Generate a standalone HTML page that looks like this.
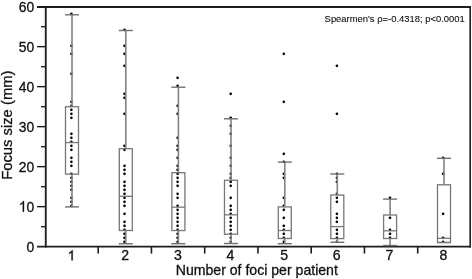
<!DOCTYPE html>
<html><head><meta charset="utf-8"><style>
html,body{margin:0;padding:0;background:#fff;width:472px;height:279px;overflow:hidden}
svg{display:block}
.t{font-family:"Liberation Sans",sans-serif;font-size:14.1px;fill:#111;stroke:#111;stroke-width:0.3px}
.yl{font-family:"Liberation Sans",sans-serif;font-size:14.8px;fill:#111;stroke:#111;stroke-width:0.3px}
.s{font-family:"Liberation Sans",sans-serif;font-size:9.9px;fill:#111;stroke:#111;stroke-width:0.12px}
circle{fill:#000}
.yt{font-family:"Liberation Sans",sans-serif;font-size:13.9px;fill:#111;stroke:#111;stroke-width:0.3px}
.g{fill:#111;stroke:#111;stroke-width:44px}
</style></head><body>
<svg style="filter:grayscale(1)" width="472" height="279" viewBox="0 0 472 279">
<line x1="37" y1="6.95" x2="471" y2="6.95" stroke="#1c1c1c" stroke-width="1.9"/>
<line x1="45.75" y1="6" x2="45.75" y2="247.6" stroke="#1c1c1c" stroke-width="1.85"/>
<line x1="470.2" y1="6" x2="470.2" y2="247.6" stroke="#1c1c1c" stroke-width="1.6"/>
<line x1="37" y1="246.65" x2="471" y2="246.65" stroke="#1c1c1c" stroke-width="1.9"/>
<text transform="translate(34.30,251.68) scale(1,1.07)" text-anchor="end" class="yt">0</text>
<line x1="41" y1="226.66" x2="46" y2="226.66" stroke="#1c1c1c" stroke-width="1.4"/>
<line x1="37" y1="206.66" x2="46" y2="206.66" stroke="#1c1c1c" stroke-width="1.4"/>
<path class="g" transform="translate(18.84,211.68) scale(0.006787,-0.007262)" d="M763 0L583 0L583 1147Q518 1085 412.5 1023Q307 961 223 930L223 1104Q374 1175 487 1276Q600 1377 647 1472L763 1472Z"/>
<text transform="translate(34.30,211.68) scale(1,1.07)" text-anchor="end" class="yt">0</text>
<line x1="41" y1="186.66" x2="46" y2="186.66" stroke="#1c1c1c" stroke-width="1.4"/>
<line x1="37" y1="166.66" x2="46" y2="166.66" stroke="#1c1c1c" stroke-width="1.4"/>
<text transform="translate(34.30,171.68) scale(1,1.07)" text-anchor="end" class="yt">20</text>
<line x1="41" y1="146.66" x2="46" y2="146.66" stroke="#1c1c1c" stroke-width="1.4"/>
<line x1="37" y1="126.66" x2="46" y2="126.66" stroke="#1c1c1c" stroke-width="1.4"/>
<text transform="translate(34.30,131.68) scale(1,1.07)" text-anchor="end" class="yt">30</text>
<line x1="41" y1="106.66" x2="46" y2="106.66" stroke="#1c1c1c" stroke-width="1.4"/>
<line x1="37" y1="86.66" x2="46" y2="86.66" stroke="#1c1c1c" stroke-width="1.4"/>
<text transform="translate(34.30,91.68) scale(1,1.07)" text-anchor="end" class="yt">40</text>
<line x1="41" y1="66.66" x2="46" y2="66.66" stroke="#1c1c1c" stroke-width="1.4"/>
<line x1="37" y1="46.66" x2="46" y2="46.66" stroke="#1c1c1c" stroke-width="1.4"/>
<text transform="translate(34.30,51.68) scale(1,1.07)" text-anchor="end" class="yt">50</text>
<line x1="41" y1="26.66" x2="46" y2="26.66" stroke="#1c1c1c" stroke-width="1.4"/>
<text transform="translate(34.30,11.68) scale(1,1.07)" text-anchor="end" class="yt">60</text>
<line x1="98.20" y1="246" x2="98.20" y2="253.6" stroke="#1c1c1c" stroke-width="1.6"/>
<line x1="151.45" y1="246" x2="151.45" y2="253.6" stroke="#1c1c1c" stroke-width="1.6"/>
<line x1="204.70" y1="246" x2="204.70" y2="253.6" stroke="#1c1c1c" stroke-width="1.6"/>
<line x1="257.95" y1="246" x2="257.95" y2="253.6" stroke="#1c1c1c" stroke-width="1.6"/>
<line x1="311.20" y1="246" x2="311.20" y2="253.6" stroke="#1c1c1c" stroke-width="1.6"/>
<line x1="364.45" y1="246" x2="364.45" y2="253.6" stroke="#1c1c1c" stroke-width="1.6"/>
<line x1="417.70" y1="246" x2="417.70" y2="253.6" stroke="#1c1c1c" stroke-width="1.6"/>
<path class="g" transform="translate(67.48,260.30) scale(0.006885,-0.006885)" d="M763 0L583 0L583 1147Q518 1085 412.5 1023Q307 961 223 930L223 1104Q374 1175 487 1276Q600 1377 647 1472L763 1472Z"/>
<text x="125.20" y="260.3" text-anchor="middle" class="t">2</text>
<text x="177.80" y="260.3" text-anchor="middle" class="t">3</text>
<text x="230.40" y="260.3" text-anchor="middle" class="t">4</text>
<text x="284.20" y="260.3" text-anchor="middle" class="t">5</text>
<text x="336.70" y="260.3" text-anchor="middle" class="t">6</text>
<text x="389.50" y="260.3" text-anchor="middle" class="t">7</text>
<text x="443.40" y="260.3" text-anchor="middle" class="t">8</text>
<circle cx="71.40" cy="13.86" r="1.3"/>
<circle cx="71.40" cy="45.86" r="1.3"/>
<circle cx="71.40" cy="53.86" r="1.3"/>
<circle cx="71.40" cy="73.86" r="1.3"/>
<circle cx="71.40" cy="101.86" r="1.3"/>
<circle cx="71.40" cy="105.86" r="1.3"/>
<circle cx="71.40" cy="109.86" r="1.3"/>
<circle cx="71.40" cy="113.86" r="1.3"/>
<circle cx="71.40" cy="117.86" r="1.3"/>
<circle cx="71.40" cy="133.86" r="1.3"/>
<circle cx="71.40" cy="137.86" r="1.3"/>
<circle cx="71.40" cy="141.86" r="1.3"/>
<circle cx="71.40" cy="145.86" r="1.3"/>
<circle cx="71.40" cy="149.86" r="1.3"/>
<circle cx="71.40" cy="157.86" r="1.3"/>
<circle cx="71.40" cy="161.86" r="1.3"/>
<circle cx="71.40" cy="165.86" r="1.3"/>
<circle cx="71.40" cy="173.86" r="1.3"/>
<circle cx="71.40" cy="177.86" r="1.3"/>
<circle cx="71.40" cy="181.86" r="1.3"/>
<circle cx="71.40" cy="185.86" r="1.3"/>
<circle cx="71.40" cy="189.86" r="1.3"/>
<circle cx="71.40" cy="197.86" r="1.3"/>
<circle cx="71.40" cy="201.86" r="1.3"/>
<circle cx="71.40" cy="205.86" r="1.3"/>
<circle cx="124.50" cy="29.86" r="1.3"/>
<circle cx="124.50" cy="45.86" r="1.3"/>
<circle cx="124.50" cy="53.86" r="1.3"/>
<circle cx="124.50" cy="65.86" r="1.3"/>
<circle cx="124.50" cy="93.86" r="1.3"/>
<circle cx="124.50" cy="97.86" r="1.3"/>
<circle cx="124.50" cy="113.86" r="1.3"/>
<circle cx="124.50" cy="145.86" r="1.3"/>
<circle cx="124.50" cy="149.86" r="1.3"/>
<circle cx="124.50" cy="165.86" r="1.3"/>
<circle cx="124.50" cy="169.86" r="1.3"/>
<circle cx="124.50" cy="173.86" r="1.3"/>
<circle cx="124.50" cy="181.86" r="1.3"/>
<circle cx="124.50" cy="185.86" r="1.3"/>
<circle cx="124.50" cy="189.86" r="1.3"/>
<circle cx="124.50" cy="193.86" r="1.3"/>
<circle cx="124.50" cy="197.86" r="1.3"/>
<circle cx="124.50" cy="201.86" r="1.3"/>
<circle cx="124.50" cy="205.86" r="1.3"/>
<circle cx="124.50" cy="213.86" r="1.3"/>
<circle cx="124.50" cy="221.86" r="1.3"/>
<circle cx="124.50" cy="225.86" r="1.3"/>
<circle cx="124.50" cy="229.86" r="1.3"/>
<circle cx="124.50" cy="233.86" r="1.3"/>
<circle cx="124.50" cy="237.86" r="1.3"/>
<circle cx="124.50" cy="241.86" r="1.3"/>
<circle cx="177.60" cy="77.86" r="1.3"/>
<circle cx="177.60" cy="85.86" r="1.3"/>
<circle cx="177.60" cy="105.86" r="1.3"/>
<circle cx="177.60" cy="113.86" r="1.3"/>
<circle cx="177.60" cy="137.86" r="1.3"/>
<circle cx="177.60" cy="145.86" r="1.3"/>
<circle cx="177.60" cy="149.86" r="1.3"/>
<circle cx="177.60" cy="157.86" r="1.3"/>
<circle cx="177.60" cy="165.86" r="1.3"/>
<circle cx="177.60" cy="169.86" r="1.3"/>
<circle cx="177.60" cy="173.86" r="1.3"/>
<circle cx="177.60" cy="177.86" r="1.3"/>
<circle cx="177.60" cy="181.86" r="1.3"/>
<circle cx="177.60" cy="185.86" r="1.3"/>
<circle cx="177.60" cy="193.86" r="1.3"/>
<circle cx="177.60" cy="197.86" r="1.3"/>
<circle cx="177.60" cy="205.86" r="1.3"/>
<circle cx="177.60" cy="209.86" r="1.3"/>
<circle cx="177.60" cy="213.86" r="1.3"/>
<circle cx="177.60" cy="217.86" r="1.3"/>
<circle cx="177.60" cy="221.86" r="1.3"/>
<circle cx="177.60" cy="225.86" r="1.3"/>
<circle cx="177.60" cy="229.86" r="1.3"/>
<circle cx="177.60" cy="233.86" r="1.3"/>
<circle cx="177.60" cy="237.86" r="1.3"/>
<circle cx="177.60" cy="241.86" r="1.3"/>
<circle cx="230.70" cy="93.86" r="1.3"/>
<circle cx="230.70" cy="117.86" r="1.3"/>
<circle cx="230.70" cy="125.86" r="1.3"/>
<circle cx="230.70" cy="133.86" r="1.3"/>
<circle cx="230.70" cy="145.86" r="1.3"/>
<circle cx="230.70" cy="157.86" r="1.3"/>
<circle cx="230.70" cy="165.86" r="1.3"/>
<circle cx="230.70" cy="173.86" r="1.3"/>
<circle cx="230.70" cy="177.86" r="1.3"/>
<circle cx="230.70" cy="181.86" r="1.3"/>
<circle cx="230.70" cy="185.86" r="1.3"/>
<circle cx="230.70" cy="197.86" r="1.3"/>
<circle cx="230.70" cy="205.86" r="1.3"/>
<circle cx="230.70" cy="209.86" r="1.3"/>
<circle cx="230.70" cy="213.86" r="1.3"/>
<circle cx="230.70" cy="217.86" r="1.3"/>
<circle cx="230.70" cy="221.86" r="1.3"/>
<circle cx="230.70" cy="225.86" r="1.3"/>
<circle cx="230.70" cy="229.86" r="1.3"/>
<circle cx="230.70" cy="233.86" r="1.3"/>
<circle cx="230.70" cy="237.86" r="1.3"/>
<circle cx="230.70" cy="241.86" r="1.3"/>
<circle cx="283.80" cy="53.86" r="1.3"/>
<circle cx="283.80" cy="101.86" r="1.3"/>
<circle cx="283.80" cy="153.86" r="1.3"/>
<circle cx="283.80" cy="161.86" r="1.3"/>
<circle cx="283.80" cy="173.86" r="1.3"/>
<circle cx="283.80" cy="177.86" r="1.3"/>
<circle cx="283.80" cy="197.86" r="1.3"/>
<circle cx="283.80" cy="205.86" r="1.3"/>
<circle cx="283.80" cy="209.86" r="1.3"/>
<circle cx="283.80" cy="217.86" r="1.3"/>
<circle cx="283.80" cy="225.86" r="1.3"/>
<circle cx="283.80" cy="229.86" r="1.3"/>
<circle cx="283.80" cy="233.86" r="1.3"/>
<circle cx="283.80" cy="237.86" r="1.3"/>
<circle cx="283.80" cy="241.86" r="1.3"/>
<circle cx="336.90" cy="65.86" r="1.3"/>
<circle cx="336.90" cy="113.86" r="1.3"/>
<circle cx="336.90" cy="173.86" r="1.3"/>
<circle cx="336.90" cy="177.86" r="1.3"/>
<circle cx="336.90" cy="181.86" r="1.3"/>
<circle cx="336.90" cy="193.86" r="1.3"/>
<circle cx="336.90" cy="197.86" r="1.3"/>
<circle cx="336.90" cy="201.86" r="1.3"/>
<circle cx="336.90" cy="213.86" r="1.3"/>
<circle cx="336.90" cy="217.86" r="1.3"/>
<circle cx="336.90" cy="221.86" r="1.3"/>
<circle cx="336.90" cy="229.86" r="1.3"/>
<circle cx="336.90" cy="233.86" r="1.3"/>
<circle cx="336.90" cy="237.86" r="1.3"/>
<circle cx="336.90" cy="241.86" r="1.3"/>
<circle cx="390.00" cy="197.86" r="1.3"/>
<circle cx="390.00" cy="217.86" r="1.3"/>
<circle cx="390.00" cy="229.86" r="1.3"/>
<circle cx="390.00" cy="233.86" r="1.3"/>
<circle cx="390.00" cy="237.86" r="1.3"/>
<circle cx="443.10" cy="157.86" r="1.3"/>
<circle cx="443.10" cy="173.86" r="1.3"/>
<circle cx="443.10" cy="213.86" r="1.3"/>
<circle cx="443.10" cy="237.86" r="1.3"/>
<circle cx="443.10" cy="241.86" r="1.3"/>
<line x1="72.00" y1="14.8" x2="72.00" y2="106.75" stroke="#828282" stroke-width="1.6"/>
<line x1="72.00" y1="174.15" x2="72.00" y2="206.9" stroke="#828282" stroke-width="1.6"/>
<line x1="65.00" y1="14.8" x2="79.00" y2="14.8" stroke="#707070" stroke-width="1.4"/>
<line x1="65.00" y1="206.9" x2="79.00" y2="206.9" stroke="#707070" stroke-width="1.4"/>
<line x1="125.80" y1="30.5" x2="125.80" y2="148.7" stroke="#828282" stroke-width="1.6"/>
<line x1="125.80" y1="230.5" x2="125.80" y2="243.75" stroke="#828282" stroke-width="1.6"/>
<line x1="118.80" y1="30.5" x2="132.80" y2="30.5" stroke="#707070" stroke-width="1.4"/>
<line x1="118.80" y1="243.75" x2="132.80" y2="243.75" stroke="#707070" stroke-width="1.4"/>
<line x1="178.40" y1="87.2" x2="178.40" y2="172.7" stroke="#828282" stroke-width="1.6"/>
<line x1="178.40" y1="230.55" x2="178.40" y2="243.7" stroke="#828282" stroke-width="1.6"/>
<line x1="171.40" y1="87.2" x2="185.40" y2="87.2" stroke="#707070" stroke-width="1.4"/>
<line x1="171.40" y1="243.7" x2="185.40" y2="243.7" stroke="#707070" stroke-width="1.4"/>
<line x1="231.00" y1="118.8" x2="231.00" y2="180.25" stroke="#828282" stroke-width="1.6"/>
<line x1="231.00" y1="234.2" x2="231.00" y2="243.5" stroke="#828282" stroke-width="1.6"/>
<line x1="224.00" y1="118.8" x2="238.00" y2="118.8" stroke="#707070" stroke-width="1.4"/>
<line x1="224.00" y1="243.5" x2="238.00" y2="243.5" stroke="#707070" stroke-width="1.4"/>
<line x1="284.80" y1="162.1" x2="284.80" y2="206.9" stroke="#828282" stroke-width="1.6"/>
<line x1="284.80" y1="238.5" x2="284.80" y2="243.7" stroke="#828282" stroke-width="1.6"/>
<line x1="277.80" y1="162.1" x2="291.80" y2="162.1" stroke="#707070" stroke-width="1.4"/>
<line x1="277.80" y1="243.7" x2="291.80" y2="243.7" stroke="#707070" stroke-width="1.4"/>
<line x1="337.30" y1="174.0" x2="337.30" y2="195.05" stroke="#828282" stroke-width="1.6"/>
<line x1="337.30" y1="238.6" x2="337.30" y2="242.3" stroke="#828282" stroke-width="1.6"/>
<line x1="330.30" y1="174.0" x2="344.30" y2="174.0" stroke="#707070" stroke-width="1.4"/>
<line x1="330.30" y1="242.3" x2="344.30" y2="242.3" stroke="#707070" stroke-width="1.4"/>
<line x1="390.10" y1="199.1" x2="390.10" y2="215.0" stroke="#828282" stroke-width="1.6"/>
<line x1="390.10" y1="238.5" x2="390.10" y2="245.5" stroke="#828282" stroke-width="1.6"/>
<line x1="383.10" y1="199.1" x2="397.10" y2="199.1" stroke="#707070" stroke-width="1.4"/>
<line x1="383.10" y1="245.5" x2="397.10" y2="245.5" stroke="#707070" stroke-width="1.4"/>
<line x1="444.00" y1="158.3" x2="444.00" y2="184.8" stroke="#828282" stroke-width="1.6"/>
<line x1="444.00" y1="242.5" x2="444.00" y2="242.5" stroke="#828282" stroke-width="1.6"/>
<line x1="437.00" y1="158.3" x2="451.00" y2="158.3" stroke="#707070" stroke-width="1.4"/>
<line x1="437.00" y1="242.5" x2="451.00" y2="242.5" stroke="#707070" stroke-width="1.4"/>
<rect x="65.50" y="106.75" width="13" height="67.40" fill="none" stroke="#777777" stroke-width="1.3"/>
<line x1="65.50" y1="142.55" x2="78.50" y2="142.55" stroke="#777777" stroke-width="1.3"/>
<rect x="119.30" y="148.7" width="13" height="81.80" fill="none" stroke="#777777" stroke-width="1.3"/>
<line x1="119.30" y1="196.3" x2="132.30" y2="196.3" stroke="#777777" stroke-width="1.3"/>
<rect x="171.90" y="172.7" width="13" height="57.85" fill="none" stroke="#777777" stroke-width="1.3"/>
<line x1="171.90" y1="207.2" x2="184.90" y2="207.2" stroke="#777777" stroke-width="1.3"/>
<rect x="224.50" y="180.25" width="13" height="53.95" fill="none" stroke="#777777" stroke-width="1.3"/>
<line x1="224.50" y1="214.8" x2="237.50" y2="214.8" stroke="#777777" stroke-width="1.3"/>
<rect x="278.30" y="206.9" width="13" height="31.60" fill="none" stroke="#777777" stroke-width="1.3"/>
<line x1="278.30" y1="230.55" x2="291.30" y2="230.55" stroke="#777777" stroke-width="1.3"/>
<rect x="330.80" y="195.05" width="13" height="43.55" fill="none" stroke="#777777" stroke-width="1.3"/>
<line x1="330.80" y1="226.6" x2="343.80" y2="226.6" stroke="#777777" stroke-width="1.3"/>
<rect x="383.60" y="215.0" width="13" height="23.50" fill="none" stroke="#777777" stroke-width="1.3"/>
<line x1="383.60" y1="230.8" x2="396.60" y2="230.8" stroke="#777777" stroke-width="1.3"/>
<rect x="437.50" y="184.8" width="13" height="57.70" fill="none" stroke="#777777" stroke-width="1.3"/>
<line x1="437.50" y1="238.3" x2="450.50" y2="238.3" stroke="#777777" stroke-width="1.3"/>
<text x="256.8" y="275" text-anchor="middle" class="t">Number of foci per patient</text>
<text transform="translate(12.2,125.2) rotate(-90)" text-anchor="middle" class="yl">Focus size (mm)</text>
<text x="324.6" y="22.4" textLength="140.2" lengthAdjust="spacingAndGlyphs" class="s">Spearmen's ρ=-0.4318; p&lt;0.0001</text>
</svg>
</body></html>
